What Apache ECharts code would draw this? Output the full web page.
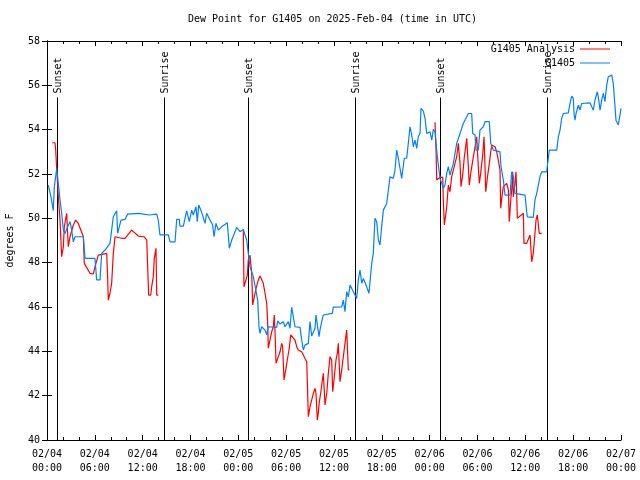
<!DOCTYPE html>
<html>
<head>
<meta charset="utf-8">
<script src="https://cdn.jsdelivr.net/npm/echarts@6/dist/echarts.min.js"></script>
<style>html,body{margin:0;padding:0;background:#fff}#c{width:640px;height:480px}</style>
</head>
<body>
<div id="c"></div>
<script>
// Hours since 2025-02-04 00:00 UTC, dew point (deg F)
const g1405 = [[0.16,51.50],[0.50,50.97],[0.79,50.35],[0.92,51.43],[1.22,52.26],[1.42,51.58],[1.63,50.83],[1.84,50.23],[2.05,49.47],[2.26,49.32],[2.59,49.62],[2.89,49.85],[3.10,49.47],[3.30,48.94],[3.51,49.17],[4.56,49.17],[4.77,48.19],[6.02,48.19],[6.23,47.22],[6.65,47.22],[6.86,48.42],[7.28,48.57],[7.90,48.87],[8.32,50.07],[8.74,50.34],[8.86,49.32],[9.28,49.92],[9.78,49.95],[10.12,50.19],[11.5,50.22],[12.8,50.15],[13.76,50.19],[13.96,49.92],[14.17,49.25],[15.22,49.25],[15.43,48.94],[16.06,48.94],[16.27,49.95],[16.60,49.95],[16.68,49.65],[17.10,49.65],[17.52,50.34],[17.85,49.85],[18.15,50.37],[18.35,50.15],[18.69,50.52],[18.85,49.85],[19.03,50.60],[19.41,50.26],[19.82,49.77],[20.03,50.23],[20.45,49.92],[20.78,49.70],[20.95,49.17],[21.20,49.77],[21.49,49.47],[21.91,49.62],[22.62,49.80],[22.87,48.65],[23.17,49.02],[23.50,49.32],[23.79,49.59],[24.21,49.40],[24.62,49.50],[24.84,49.25],[25.05,49.02],[25.25,48.42],[25.34,48.34],[25.46,47.82],[25.88,47.37],[26.09,47.29],[26.43,46.31],[26.59,45.11],[26.72,44.81],[26.93,45.11],[27.35,44.96],[27.56,44.74],[27.76,45.11],[28.81,45.08],[28.94,45.38],[29.23,45.23],[29.64,45.34],[29.85,45.11],[30.27,45.34],[30.48,45.04],[30.69,45.99],[30.90,45.99],[31.11,45.11],[31.74,45.08],[31.95,44.51],[32.15,44.06],[32.36,44.28],[32.78,44.36],[32.99,45.34],[33.20,44.69],[33.62,45.04],[33.74,45.64],[33.96,45.64],[34.12,44.66],[34.24,44.96],[34.46,45.34],[34.66,45.64],[35.79,45.71],[35.91,45.99],[36.97,46.01],[37.17,46.31],[37.38,45.79],[37.59,46.69],[37.80,46.46],[38.01,46.99],[38.42,46.69],[38.85,46.39],[39.05,47.22],[39.26,47.67],[39.48,47.07],[39.68,47.29],[40.10,46.91],[40.39,46.62],[40.73,47.97],[40.93,48.42],[41.14,50.00],[41.36,49.85],[41.56,49.02],[41.77,48.80],[41.98,49.62],[42.19,50.37],[42.61,50.67],[43.03,51.88],[43.44,51.80],[43.65,52.18],[43.87,53.08],[44.07,52.71],[44.28,52.63],[44.49,51.80],[44.82,52.71],[45.12,52.71],[45.32,53.38],[45.53,54.13],[45.75,53.76],[45.95,53.23],[46.16,53.53],[46.38,53.16],[46.57,53.68],[46.79,53.83],[46.91,54.96],[47.20,54.85],[47.42,54.51],[47.63,53.83],[48.04,53.91],[48.26,53.53],[48.46,54.01],[48.67,53.91],[48.88,53.08],[49.01,52.63],[49.30,51.80],[49.59,51.50],[49.71,51.35],[49.92,51.50],[50.14,52.03],[50.34,52.33],[50.55,51.95],[50.76,51.88],[50.97,52.48],[51.18,52.93],[51.39,53.38],[51.81,53.83],[52.22,54.28],[52.65,54.58],[52.85,54.73],[53.27,54.73],[53.40,53.83],[53.69,53.76],[53.81,53.08],[54.10,53.08],[54.31,53.98],[54.73,54.13],[54.94,54.36],[55.48,54.36],[55.66,53.38],[55.98,53.08],[56.82,53.00],[56.95,52.33],[57.24,51.73],[57.45,51.05],[58.08,51.05],[58.29,52.10],[58.49,51.88],[58.70,51.13],[59.96,51.05],[60.17,50.30],[60.25,50.07],[61.00,50.04],[61.21,50.83],[61.43,51.13],[61.63,51.13],[61.84,51.88],[62.05,52.10],[62.68,52.10],[62.80,52.48],[63.01,53.08],[63.94,53.08],[64.14,53.68],[64.35,53.98],[64.56,54.51],[64.77,54.73],[65.39,54.76],[65.60,55.18],[65.82,55.51],[66.02,55.41],[66.11,54.73],[66.23,54.43],[66.36,54.73],[66.65,55.11],[66.86,54.88],[67.07,55.18],[68.11,55.21],[68.33,55.03],[68.53,54.88],[68.74,55.34],[69.03,55.71],[69.15,55.48],[69.37,54.88],[69.58,55.34],[69.78,55.64],[69.99,55.26],[70.21,56.01],[70.41,56.39],[70.62,56.31],[70.84,56.46],[71.03,56.09],[71.25,55.03],[71.37,54.43],[71.66,54.21],[71.87,54.66],[72.0,54.96]];

const analysisNight1 = [[0.67,53.41],[1.00,53.41],[1.09,53.08],[1.22,52.18],[1.42,50.97],[1.63,49.92],[1.84,48.27],[2.05,48.72],[2.17,49.62],[2.47,50.23],[2.67,48.72],[2.89,49.17],[3.30,49.70],[3.60,49.92],[3.93,49.77],[4.56,49.17],[4.68,47.97],[5.39,47.52],[5.81,47.49],[6.02,47.82],[6.44,48.34],[7.49,48.42],[7.61,47.29],[7.69,46.31],[7.90,46.62],[8.11,47.07],[8.32,48.42],[8.53,49.17],[9.37,49.10],[9.78,49.10],[10.62,49.47],[11.45,49.20],[12.17,49.17],[12.51,49.02],[12.71,48.94],[12.75,46.54],[13.01,46.54],[13.13,46.91],[13.33,47.37],[13.46,48.19],[13.67,48.65],[13.76,46.54],[13.96,46.54]];
const analysisNight2 = [[24.62,49.47],[24.71,46.91],[24.96,46.99],[25.13,47.44],[25.25,48.12],[25.46,48.34],[25.68,47.52],[25.80,46.09],[25.97,46.39],[26.22,46.84],[26.51,47.22],[26.72,47.40],[26.93,47.37],[27.13,47.07],[27.35,46.62],[27.56,46.17],[27.68,45.26],[27.76,44.14],[27.97,44.51],[28.19,44.89],[28.39,45.11],[28.51,45.64],[28.60,44.89],[28.73,43.46],[29.01,43.76],[29.23,43.98],[29.44,44.36],[29.56,44.21],[29.73,42.71],[29.98,43.23],[30.14,43.61],[30.39,44.14],[30.57,44.74],[30.82,44.74],[31.11,44.51],[31.32,44.21],[31.52,44.06],[31.95,43.98],[32.36,43.68],[32.58,43.53],[32.78,41.05],[32.99,41.50],[33.20,41.80],[33.41,42.11],[33.62,42.33],[33.74,42.11],[33.91,40.90],[34.03,41.20],[34.16,41.73],[34.33,42.11],[34.46,42.48],[34.66,43.01],[34.87,41.58],[35.09,42.11],[35.29,43.01],[35.50,43.76],[35.71,43.61],[35.84,42.18],[36.00,42.71],[36.25,43.61],[36.42,43.91],[36.54,44.36],[36.75,42.63],[36.97,43.16],[37.17,43.76],[37.38,44.36],[37.59,44.96],[37.80,43.16],[37.92,43.16]];
const analysisNight3 = [[48.67,54.33],[48.80,53.08],[48.88,51.73],[49.30,51.85],[49.64,51.85],[49.71,50.83],[49.84,49.70],[50.05,49.77],[50.14,50.52],[50.34,51.50],[50.55,51.20],[50.76,51.88],[51.18,52.48],[51.39,52.78],[51.59,53.38],[51.81,52.48],[51.93,51.43],[52.14,51.95],[52.35,52.78],[52.65,53.61],[52.85,52.33],[52.97,51.50],[53.15,52.03],[53.48,52.78],[53.69,53.23],[53.90,53.68],[54.10,52.33],[54.23,51.58],[54.40,52.03],[54.65,52.86],[54.82,53.68],[54.94,52.33],[55.03,51.20],[55.23,51.80],[55.48,52.48],[55.66,53.00],[55.78,53.31],[56.20,53.23],[56.41,53.00],[56.61,52.63],[56.82,52.18],[56.91,50.45],[57.04,50.90],[57.24,51.43],[57.66,51.58],[57.87,51.28],[57.99,49.85],[58.17,50.83],[58.29,51.28],[58.41,52.10],[58.49,50.97],[58.70,51.58],[58.83,52.10],[59.00,50.00],[59.75,50.23],[59.83,48.87],[60.17,48.87],[60.59,49.25],[60.80,48.04],[61.00,48.42],[61.21,49.32],[61.34,49.92],[61.50,50.15],[61.75,49.32],[62.05,49.32]];

const sunTimes = [1.21, 14.72, 25.25, 38.63, 49.35, 62.78];
const sunLabels = ['Sunset', 'Sunrise', 'Sunset', 'Sunrise', 'Sunset', 'Sunrise'];

const yTicks = [40, 42, 44, 46, 48, 50, 52, 54, 56, 58];
const dayLabels = ['02/04', '02/05', '02/06', '02/07'];

const FONT = 'DejaVu Sans Mono';
const analysis = [].concat(analysisNight1, [[20, '-']], analysisNight2, [[44, '-']], analysisNight3);

const chart = echarts.init(document.getElementById('c'), null, {renderer: 'canvas'});
function xLabel(v) {
  const d = Math.floor(v / 24);
  const h = v - d * 24;
  return dayLabels[d] + '\n' + (h < 10 ? '0' : '') + h + ':00';
}
const axisBase = {
  axisLine: {show: true, lineStyle: {color: '#000', width: 1}},
  splitLine: {show: false}
};
const legendBase = {
  right: 25, align: 'right', itemWidth: 30, itemHeight: 1, itemGap: 4, icon: 'rect',
  textStyle: {fontFamily: FONT, fontSize: 10, color: '#000'}, selectedMode: false
};
chart.setOption({
  animation: false,
  backgroundColor: '#fff',
  graphic: [{
    type: 'text', left: 188, top: 14,
    style: {text: 'Dew Point for G1405 on 2025-Feb-04 (time in UTC)', font: '10px "' + FONT + '"', fill: '#000'}
  }],
  legend: [
    Object.assign({}, legendBase, {data: ['G1405 Analysis'], top: 39}),
    Object.assign({}, legendBase, {data: ['G1405'], top: 53})
  ],
  grid: {left: 47, right: 19, top: 41, bottom: 40, containLabel: false, outerBoundsMode: 'none'},
  xAxis: [
    Object.assign({}, axisBase, {
      type: 'value', min: 0, max: 72, interval: 6, position: 'bottom',
      axisTick: {show: true, inside: true, length: 5, lineStyle: {color: '#000'}},
      minorTick: {show: true, splitNumber: 3, length: 3, lineStyle: {color: '#000'}},
      axisLabel: {formatter: xLabel, fontFamily: FONT, fontSize: 10, color: '#000', lineHeight: 14, margin: 7}
    }),
    Object.assign({}, axisBase, {
      type: 'value', min: 0, max: 72, interval: 6, position: 'top',
      axisTick: {show: true, inside: true, length: 5, lineStyle: {color: '#000'}},
      minorTick: {show: true, splitNumber: 3, length: 3, lineStyle: {color: '#000'}},
      axisLabel: {show: false}
    })
  ],
  yAxis: [
    Object.assign({}, axisBase, {
      type: 'value', min: yTicks[0], max: yTicks[yTicks.length - 1], interval: 2, position: 'left',
      name: 'degrees F', nameLocation: 'middle', nameGap: 32,
      nameTextStyle: {fontFamily: FONT, fontSize: 10, color: '#000'},
      axisTick: {show: true, inside: true, length: 5, lineStyle: {color: '#000'}},
      axisLabel: {fontFamily: FONT, fontSize: 10, color: '#000', margin: 7}
    }),
    Object.assign({}, axisBase, {
      type: 'value', min: yTicks[0], max: yTicks[yTicks.length - 1], interval: 2, position: 'right',
      axisTick: {show: true, inside: true, length: 5, lineStyle: {color: '#000'}},
      axisLabel: {show: false}
    })
  ],
  series: [
    {
      type: 'custom', name: 'sun', z: 1, silent: true,
      data: sunTimes.map(function (t) { return [t, 40]; }),
      encode: {x: 0, y: 1},
      renderItem: function (params, api) {
        const t = api.value(0);
        const p0 = api.coord([t, 40]);
        const p1 = api.coord([t, 55.45]);
        return {
          type: 'group',
          children: [
            {type: 'line', shape: {x1: Math.round(p0[0]) + 0.5, y1: p0[1], x2: Math.round(p1[0]) + 0.5, y2: p1[1]},
             style: {stroke: '#000', lineWidth: 1}},
            {type: 'text', x: Math.round(p1[0]) + 1, y: p1[1] - 4, rotation: Math.PI / 2,
             style: {text: sunLabels[params.dataIndex], font: '10px "' + FONT + '"', fill: '#000', align: 'left', verticalAlign: 'middle'}}
          ]
        };
      }
    },
    {
      type: 'line', name: 'G1405 Analysis', data: analysis, symbol: 'none', showSymbol: false,
      connectNulls: false, z: 2, lineStyle: {color: '#ff0000', width: 1.2}, itemStyle: {color: '#ff0000'}
    },
    {
      type: 'line', name: 'G1405', data: g1405, symbol: 'none', showSymbol: false,
      z: 3, lineStyle: {color: '#0080ff', width: 1.2}, itemStyle: {color: '#0080ff'}
    }
  ]
});
</script>
</body>
</html>
